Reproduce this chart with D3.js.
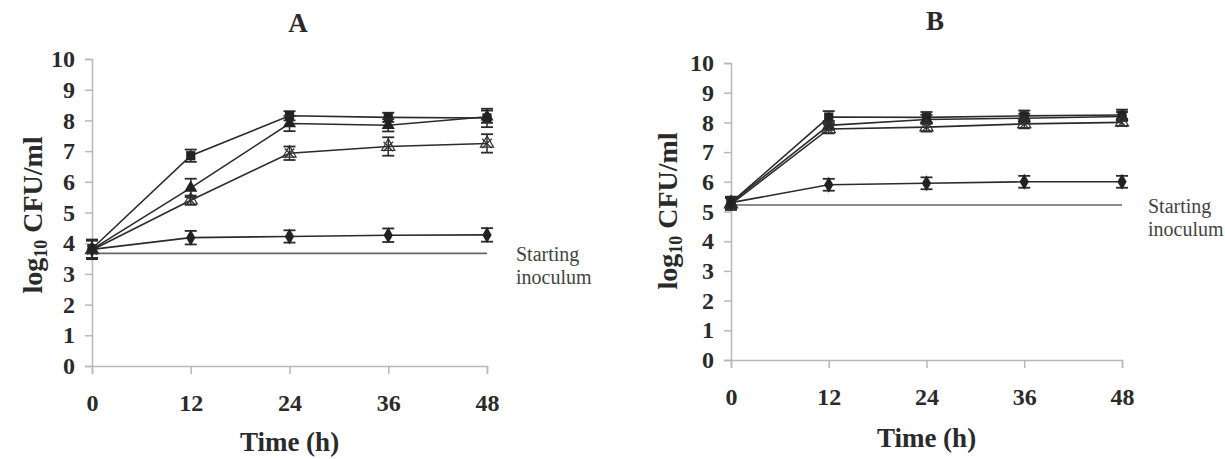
<!DOCTYPE html>
<html><head><meta charset="utf-8">
<script src="https://cdn.jsdelivr.net/npm/d3@7"></script>
<style>body{margin:0;background:#fff}svg{display:block}</style>
</head><body>
<svg id="c" width="1225" height="459"></svg>
<script>
const times = [0, 12, 24, 36, 48];
const xTicks = [0, 12, 24, 36, 48];
const yTicks = [0,1,2,3,4,5,6,7,8,9,10];

// Panel A
const aSquare   = [3.82, 6.85, 8.15, 8.1, 8.08];
const aSquareE  = [0.3, 0.2, 0.15, 0.15, 0.3];
const aTriangle = [3.8, 5.8, 7.9, 7.84, 8.12];
const aTriangleE= [0.3, 0.3, 0.25, 0.2, 0.2];
const aCross    = [3.78, 5.4, 6.93, 7.15, 7.25];
const aCrossE   = [0.3, 0.15, 0.22, 0.3, 0.3];
const aDiamond  = [3.8, 4.18, 4.22, 4.26, 4.27];
const aDiamondE = [0.3, 0.22, 0.2, 0.22, 0.22];
const aInoculum = 3.67;

// Panel B
const bSquare   = [5.3, 8.18, 8.17, 8.22, 8.25];
const bSquareE  = [0.15, 0.2, 0.18, 0.18, 0.18];
const bTriangle = [5.3, 7.9, 8.1, 8.14, 8.2];
const bTriangleE= [0.15, 0.15, 0.15, 0.15, 0.15];
const bCross    = [5.25, 7.78, 7.84, 7.95, 8.0];
const bCrossE   = [0.2, 0.15, 0.15, 0.15, 0.12];
const bDiamond  = [5.3, 5.9, 5.95, 6.0, 6.0];
const bDiamondE = [0.2, 0.2, 0.2, 0.2, 0.2];
const bInoculum = 5.22;

const svg = d3.select("#c");
const serif = "'Liberation Serif','Times New Roman',serif";

function panel(cfg) {
  const g = svg.append("g");
  const x = d3.scaleLinear().domain([0, 48]).range([cfg.x0, cfg.x1]);
  const y = d3.scaleLinear().domain([0, 10]).range([cfg.y0, cfg.y1]);

  const ya = g.append("g").attr("transform", `translate(${cfg.x0},0)`)
    .call(d3.axisLeft(y).tickValues(yTicks).tickSize(7).tickPadding(10).tickFormat(d3.format("d")));
  const xa = g.append("g").attr("transform", `translate(0,${cfg.y0})`)
    .call(d3.axisBottom(x).tickValues(xTicks).tickSize(8).tickPadding(20).tickFormat(d3.format("d")));
  [ya, xa].forEach(a => {
    a.select(".domain").attr("stroke", "#b8b8b8").attr("stroke-width", 1.5);
    a.selectAll(".tick line").attr("stroke", "#b8b8b8").attr("stroke-width", 1.5);
    a.selectAll("text").attr("font-family", serif).attr("font-weight", "bold")
      .attr("font-size", 24).attr("fill", "#2a2a2a");
  });

  g.append("line").attr("x1", x(0)).attr("x2", x(48))
    .attr("y1", y(cfg.inoc)).attr("y2", y(cfg.inoc))
    .attr("stroke", "#666").attr("stroke-width", 1.6);
  g.append("text").attr("x", cfg.labX).attr("y", y(cfg.inoc) + 8)
    .attr("font-family", serif).attr("font-size", 20).attr("fill", "#444")
    .text("Starting");
  g.append("text").attr("x", cfg.labX).attr("y", y(cfg.inoc) + 31)
    .attr("font-family", serif).attr("font-size", 20).attr("fill", "#444")
    .text("inoculum");

  const line = d3.line().x((d, i) => x(times[i])).y(d => y(d));
  const col = "#2b2b2b";
  cfg.series.forEach(s => {
    g.append("path").datum(s.v).attr("d", line).attr("fill", "none")
      .attr("stroke", col).attr("stroke-width", 1.6);
  });
  cfg.series.forEach(s => {
    const eg = g.append("g");
    s.v.forEach((v, i) => {
      const cx = x(times[i]), lo = y(v - s.e[i]), hi = y(v + s.e[i]);
      eg.append("line").attr("x1", cx).attr("x2", cx).attr("y1", lo).attr("y2", hi)
        .attr("stroke", col).attr("stroke-width", 1.5);
      [lo, hi].forEach(yy => eg.append("line").attr("x1", cx - 6).attr("x2", cx + 6)
        .attr("y1", yy).attr("y2", yy).attr("stroke", col).attr("stroke-width", 1.8));
    });
    s.v.forEach((v, i) => {
      const cx = x(times[i]), cy = y(v);
      if (s.type === "square") {
        eg.append("path").attr("d", d3.symbol(d3.symbolSquare, 85)())
          .attr("transform", `translate(${cx},${cy})`).attr("fill", "#222");
      } else if (s.type === "triangle") {
        eg.append("path").attr("d", d3.symbol(d3.symbolTriangle, 75)())
          .attr("transform", `translate(${cx},${cy})`).attr("fill", "#222");
      } else if (s.type === "diamond") {
        eg.append("path").attr("d", d3.symbol(d3.symbolDiamond, 75)())
          .attr("transform", `translate(${cx},${cy})`).attr("fill", "#222");
      } else {
        eg.append("path").attr("d", d3.symbol(d3.symbolTriangle, 75)())
          .attr("transform", `translate(${cx},${cy})`).attr("fill", "none")
          .attr("stroke", "#333").attr("stroke-width", 1.2);
        eg.append("path").attr("d", d3.symbol(d3.symbolX, 60)())
          .attr("transform", `translate(${cx},${cy})`).attr("fill", "none")
          .attr("stroke", "#333").attr("stroke-width", 1.3);
      }
    });
  });

  g.append("text").attr("x", cfg.titleX).attr("y", cfg.titleY).attr("text-anchor", "middle")
    .attr("font-family", serif).attr("font-weight", "bold").attr("font-size", 27)
    .attr("fill", "#2a2a2a").text(cfg.title);
  g.append("text").attr("x", (cfg.x0 + cfg.x1) / 2).attr("y", cfg.xLabY).attr("text-anchor", "middle")
    .attr("font-family", serif).attr("font-weight", "bold").attr("font-size", 27)
    .attr("fill", "#2a2a2a").text("Time (h)");
  const yl = g.append("text")
    .attr("transform", `translate(${cfg.yLabX},${cfg.yLabC}) rotate(-90)`)
    .attr("text-anchor", "middle").attr("font-family", serif).attr("font-weight", "bold")
    .attr("font-size", 28).attr("fill", "#2a2a2a");
  yl.append("tspan").text("log");
  yl.append("tspan").attr("font-size", 18).attr("dy", 5).text("10");
  yl.append("tspan").attr("dy", -5).text(" CFU/ml");
}

panel({
  x0: 92, x1: 487, y0: 366, y1: 59, inoc: aInoculum, labX: 516,
  titleX: 298, titleY: 32, xLabY: 451, yLabX: 42, yLabC: 215, title: "A",
  series: [
    {type: "square", v: aSquare, e: aSquareE},
    {type: "triangle", v: aTriangle, e: aTriangleE},
    {type: "cross", v: aCross, e: aCrossE},
    {type: "diamond", v: aDiamond, e: aDiamondE}
  ]
});
panel({
  x0: 731, x1: 1122, y0: 360, y1: 63, inoc: bInoculum, labX: 1148,
  titleX: 935, titleY: 30, xLabY: 447, yLabX: 677, yLabC: 211, title: "B",
  series: [
    {type: "square", v: bSquare, e: bSquareE},
    {type: "triangle", v: bTriangle, e: bTriangleE},
    {type: "cross", v: bCross, e: bCrossE},
    {type: "diamond", v: bDiamond, e: bDiamondE}
  ]
});
</script>
</body></html>
